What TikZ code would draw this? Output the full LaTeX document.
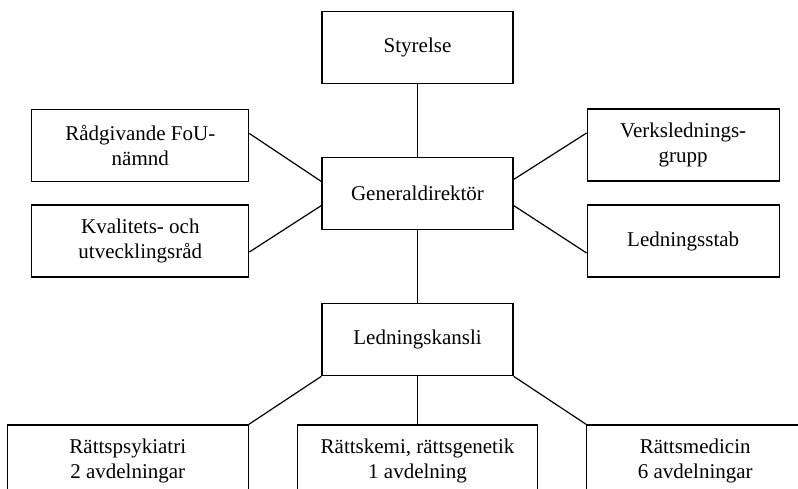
\documentclass[tikz,border=0pt]{standalone}
\usepackage{fontspec}
\setmainfont{Liberation Serif}
\usetikzlibrary{positioning}

\begin{document}
\begin{tikzpicture}[
  box/.style={rectangle, draw=black, fill=white, line width=1.2pt, minimum width=191pt, minimum height=72pt, align=center, inner sep=0pt, font=\fontsize{21}{25}\selectfont},
  sidebox/.style={box, minimum width=217pt},
  staffbox/.style={box, minimum width=192pt},
  deptbox/.style={box, minimum width=240pt},
  link/.style={line width=1.2pt, color=black}
]
  \useasboundingbox (0,0) rectangle (798pt,-488pt);

  % Nodes
  \node[box] (gd) at (417.5pt,-193.5pt) {Generaldirektör};
  \node[box, above=73pt of gd] (styrelse) {Styrelse};
  \node[box, below=73pt of gd] (kansli) {Ledningskansli};
  \node[sidebox, left=72pt of gd, yshift=48pt] (fou) {Rådgivande FoU-\\nämnd};
  \node[sidebox, left=72pt of gd, yshift=-47.5pt] (kvalitet) {Kvalitets- och\\utvecklingsråd};
  \node[staffbox, right=73pt of gd, yshift=48.5pt] (grupp) {Verkslednings-\\grupp};
  \node[staffbox, right=73pt of gd, yshift=-47.5pt] (stab) {Ledningsstab};
  \node[deptbox, below=48pt of kansli] (kemi) {Rättskemi, rättsgenetik\\1 avdelning};
  \node[deptbox, minimum width=241pt, left=48pt of kemi] (psyk) {Rättspsykiatri\\2 avdelningar};
  \node[sidebox, right=48pt of kemi] (medicin) {Rättsmedicin\\6 avdelningar};

  % Connections
  \draw[link] (styrelse) -- (gd);
  \draw[link] (gd) -- (kansli);
  \draw[link] ([yshift=12pt]fou.east) -- ([yshift=12pt]gd.west);
  \draw[link] ([yshift=-11pt]kvalitet.east) -- ([yshift=-12pt]gd.west);
  \draw[link] ([yshift=14pt]gd.east) -- ([yshift=12pt]grupp.west);
  \draw[link] ([yshift=-12pt]gd.east) -- ([yshift=-12pt]stab.west);
  \draw[link] (kansli.south west) -- (psyk.north east);
  \draw[link] (kansli) -- (kemi);
  \draw[link] (kansli.south east) -- (medicin.north west);

\end{tikzpicture}
\end{document}
